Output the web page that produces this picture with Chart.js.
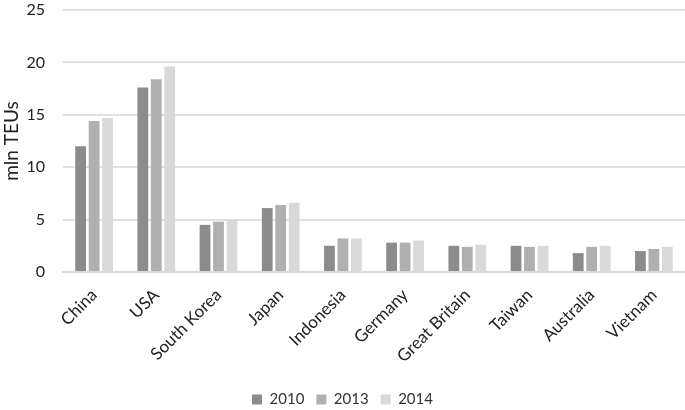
<!DOCTYPE html>
<html>
<head>
<meta charset="utf-8">
<script src="https://cdn.jsdelivr.net/npm/chart.js@4"></script>
<style>
  html, body { margin: 0; padding: 0; background: #fff; }
  #wrap { width: 685px; height: 410px; }
</style>
</head>
<body>
<div id="wrap"><canvas id="chart"></canvas></div>
<script>
const countries = ['China', 'USA', 'South Korea', 'Japan', 'Indonesia', 'Germany', 'Great Britain', 'Taiwan', 'Australia', 'Vietnam']
const years = ['2010', '2013', '2014']
const teus2010 = [12.0, 17.6, 4.5, 6.1, 2.5, 2.8, 2.5, 2.5, 1.8, 2.0]
const teus2013 = [14.4, 18.4, 4.8, 6.4, 3.2, 2.8, 2.4, 2.4, 2.4, 2.2]
const teus2014 = [14.7, 19.6, 5.0, 6.6, 3.2, 3.0, 2.6, 2.5, 2.5, 2.4]
const yTicks = [0, 5, 10, 15, 20, 25]

const colors = ['#8c8c8c', '#b0b0b0', '#d9d9d9']
const series = [teus2010, teus2013, teus2014]

const font = "Lato, 'Open Sans', sans-serif"
Chart.defaults.font.family = font
Chart.defaults.color = '#222'

const ctx = document.getElementById('chart').getContext('2d')
const chart = new Chart(ctx, {
  type: 'bar',
  data: {
    labels: countries,
    datasets: years.map((y, i) => ({
      label: y,
      data: series[i],
      backgroundColor: colors[i],
      borderWidth: 0,
      categoryPercentage: 0.65,
      barPercentage: 0.8
    }))
  },
  options: {
    responsive: true,
    maintainAspectRatio: false,
    animation: false,
    layout: { padding: { top: 10, right: 0, bottom: -7, left: 0 } },
    plugins: {
      legend: {
        position: 'bottom',
        labels: {
          boxWidth: 10,
          boxHeight: 10,
          padding: 12,
          font: { size: 15 },
          color: '#333'
        }
      },
      tooltip: { enabled: false }
    },
    scales: {
      x: {
        afterFit: (axis) => {
          axis.height = 108
          axis.paddingLeft = 0
          axis.paddingRight = 0
        },
        grid: { display: false, drawTicks: false },
        border: { display: true, color: '#d9d9d9', width: 2 },
        ticks: {
          font: { size: 17 },
          color: '#222',
          maxRotation: 45,
          minRotation: 45,
          padding: 13
        }
      },
      y: {
        min: 0,
        max: 25,
        afterBuildTicks: (axis) => { axis.ticks = yTicks.map(v => ({ value: v })) },
        afterFit: (axis) => {
          // keep the tick padding from pushing the plot down
          axis.width = 63
          axis.paddingTop = 0
          axis.paddingBottom = 0
        },
        grid: { color: '#e0e0e0', lineWidth: 2, drawTicks: false },
        border: { display: false },
        ticks: { font: { size: 16 }, color: '#222', padding: 18 },
        title: {
          display: true,
          text: 'mln TEUs',
          font: { size: 19 },
          color: '#222',
          padding: { top: 0, bottom: 0 }
        }
      }
    }
  }
})
</script>
</body>
</html>
